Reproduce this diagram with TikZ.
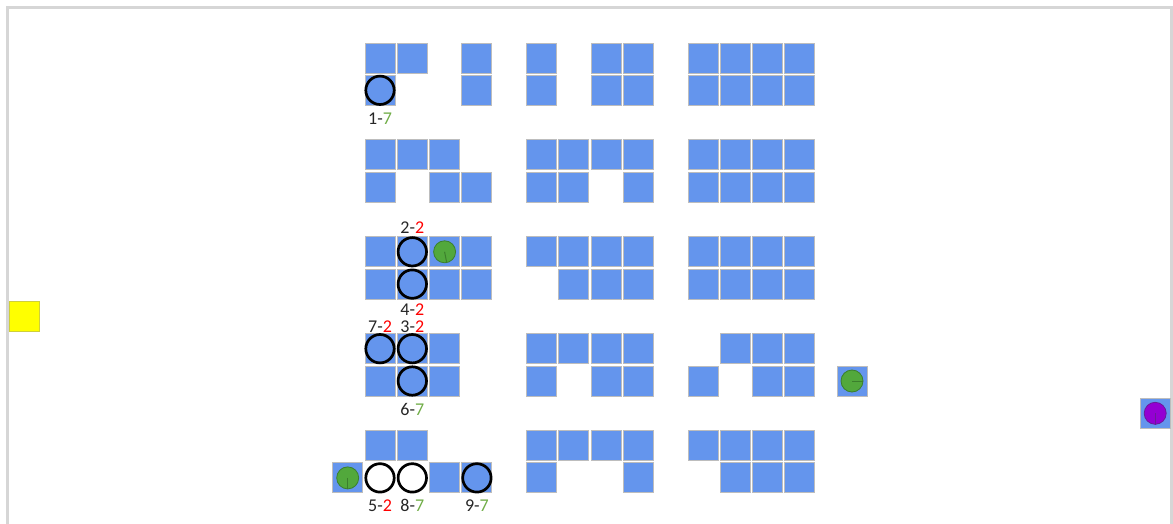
\documentclass[tikz,border=0pt]{standalone}
\usepackage{fontspec}
\setmainfont{Carlito}
\definecolor{cblue}{HTML}{6495ED}
\definecolor{cborder}{HTML}{BDBDBD}
\definecolor{framec}{HTML}{D6D6D6}
\definecolor{gfill}{HTML}{52A83C}
\definecolor{gline}{HTML}{3B7F2C}
\definecolor{pfill}{HTML}{9400D3}
\definecolor{pline}{HTML}{6A1B9A}
\definecolor{ygreen}{HTML}{70AD47}
\definecolor{yfill}{HTML}{FFFF00}
\definecolor{yline}{HTML}{CFCF3A}
\definecolor{txt}{HTML}{262626}
\newcommand{\cx}[1]{380+32.3*(#1)}
\newcommand{\cy}[1]{58+32.3*(#1)}
\tikzset{
  cell/.style={rectangle, minimum size=30pt, inner sep=0pt, fill=cblue, draw=cborder, line width=0.9pt},
  ycell/.style={cell, fill=yfill, draw=yline},
  ring/.style={circle, minimum size=28.4pt, inner sep=0pt, draw=black, line width=2.7pt},
  wring/.style={ring, fill=white},
  gdisk/.style={circle, minimum size=22pt, inner sep=0pt, fill=gfill, draw=gline, line width=0.8pt},
  pdisk/.style={gdisk, fill=pfill, draw=pline},
  gtick/.style={draw=gline, line width=1pt},
  ptick/.style={draw=pline, line width=1pt},
  lbl/.style={inner sep=0pt, text=txt, font=\fontsize{18}{20}\selectfont},
}
\newcommand{\ok}{\textcolor{ygreen}{7}}
\newcommand{\bad}{\textcolor{red}{2}}
\begin{document}
\begin{tikzpicture}[x=1pt,y=-1pt]
\useasboundingbox (0,0) rectangle (1173,524);
\clip (0,0) rectangle (1173,524);
\draw[framec, line width=3pt] (7.5,8) rectangle (1171.5,560);
% grid cells
\foreach \r/\cl in {
  0/{0,1,3,5,7,8,10,11,12,13},
  1/{0,3,5,7,8,10,11,12,13},
  3/{0,1,2,5,6,7,8,10,11,12,13},
  4/{0,2,3,5,6,8,10,11,12,13},
  6/{0,1,2,3,5,6,7,8,10,11,12,13},
  7/{0,1,2,3,6,7,8,10,11,12,13},
  9/{0,1,2,5,6,7,8,11,12,13},
  10/{0,1,2,5,7,8,10,12,13},
  12/{0,1,5,6,7,8,10,11,12,13},
  13/{-1,2,3,5,8,11,12,13},
  11/{24}}{
  \foreach \c in \cl {
    \node[cell] (c-\r-\c) at ({\cx{\c}},{\cy{\r}}) {};
  }
}
\node[cell] (c-extra) at (852,{\cy{10}}) {};
\node[ycell] (c-yellow) at ({\cx{-11}},{\cy{8}}) {};
% black rings
\node[ring] (r1) at (c-1-0) {};
\node[ring] (r2) at (c-6-1) {};
\node[ring] (r4) at (c-7-1) {};
\node[ring] (r7) at (c-9-0) {};
\node[ring] (r3) at (c-9-1) {};
\node[ring] (r6) at (c-10-1) {};
\node[wring] (r5) at ({\cx{0}},{\cy{13}}) {};
\node[wring] (r8) at ({\cx{1}},{\cy{13}}) {};
\node[ring] (r9) at (c-13-3) {};
% green and purple disks
\node[gdisk] (g1) at (c-6-2) {};
\draw[gtick] (g1.center) -- (g1.-79);
\node[gdisk] (g2) at (c-extra) {};
\draw[gtick] (g2.center) -- (g2.0);
\node[gdisk] (g3) at (c-13--1) {};
\draw[gtick] (g3.center) -- (g3.-90);
\node[pdisk] (p1) at (c-11-24) {};
\draw[ptick] (p1.center) -- (p1.-90);
% labels
\node[lbl] (l1) at ({\cx{0}},{\cy{1}+28}) {1-\ok};
\node[lbl] (l2) at ({\cx{1}},{\cy{6}-24}) {2-\bad};
\node[lbl] (l4) at ({\cx{1}},{\cy{7}+26}) {4-\bad};
\node[lbl] (l7) at ({\cx{0}},{\cy{9}-22}) {7-\bad};
\node[lbl] (l3) at ({\cx{1}},{\cy{9}-22}) {3-\bad};
\node[lbl] (l6) at ({\cx{1}},{\cy{10}+28}) {6-\ok};
\node[lbl] (l5) at ({\cx{0}},{\cy{13}+28}) {5-\bad};
\node[lbl] (l8) at ({\cx{1}},{\cy{13}+28}) {8-\ok};
\node[lbl] (l9) at ({\cx{3}},{\cy{13}+28}) {9-\ok};
\end{tikzpicture}
\end{document}
